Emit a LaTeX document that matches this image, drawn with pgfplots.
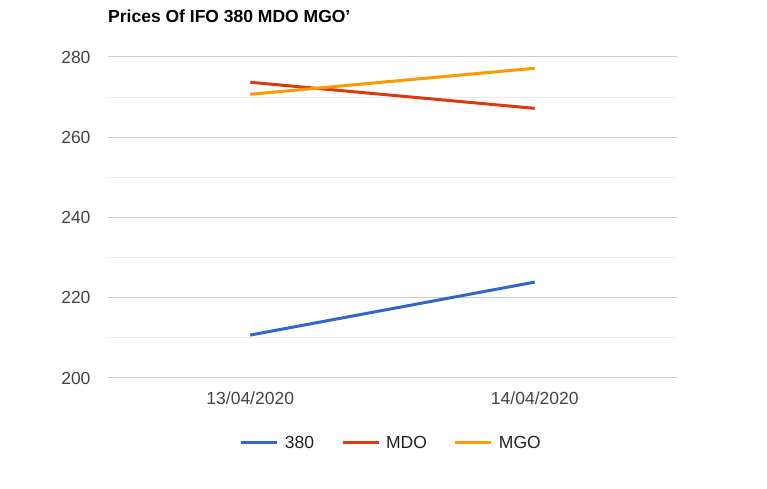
\documentclass[border=0pt]{standalone}
\usepackage{pgfplots}
\pgfplotsset{compat=1.18}
\usepackage{fontspec}
\setmainfont{Liberation Sans}
\definecolor{cA}{HTML}{3366CC}
\definecolor{cB}{HTML}{DC3912}
\definecolor{cC}{HTML}{FF9900}
\definecolor{gmaj}{HTML}{CCCCCC}
\definecolor{gmin}{HTML}{EBEBEB}
\definecolor{tick}{HTML}{444444}
\definecolor{legt}{HTML}{222222}
\begin{document}
\begin{tikzpicture}[x=1bp,y=1bp]
\path[use as bounding box] (0,0) rectangle (767,489);
\node[anchor=base west,font=\fontsize{17.5bp}{20bp}\selectfont\bfseries,inner sep=0pt] at (108,466) {Prices Of IFO 380 MDO MGO’};
\begin{axis}[
  at={(108bp,111bp)}, anchor=south west,
  width=569bp, height=321bp, scale only axis,
  xmin=-0.5, xmax=1.5, ymin=200, ymax=280,
  xtick={0,1}, xticklabels={13/04/2020,14/04/2020},
  ytick={200,220,240,260,280},
  minor ytick={210,230,250,270},
  axis line style={draw=none},
  axis x line*=bottom,
  ymajorgrids, yminorgrids,
  major grid style={gmaj,line width=1bp},
  minor grid style={gmin,line width=1bp},
  major tick length=0pt, minor tick length=0pt,
  tick label style={font=\fontsize{17.5bp}{20bp}\selectfont, text=tick},
  yticklabel style={xshift=-14bp},
  xticklabel style={yshift=-10bp},
  /pgf/number format/assume math mode=true,
  clip=false,
  legend columns=3,
  legend style={draw=none, at={(0.498,-0.2025)}, anchor=center,
    font=\fontsize{17.5bp}{20bp}\selectfont, text=legt,
    /tikz/every even column/.append style={column sep=25bp},
    /tikz/every odd column/.append style={column sep=4bp}},
  legend image code/.code={\draw[#1] (0bp,0bp) -- (36bp,0bp);},
]
\draw[gmaj,line width=1bp] (axis cs:-0.5,200) -- (axis cs:1.5,200);
\addplot[cA, line width=3bp] coordinates {(0,210.7) (1,223.9)};
\addlegendentry{380}
\addplot[cB, line width=3bp] coordinates {(0,273.7) (1,267.2)};
\addlegendentry{MDO}
\addplot[cC, line width=3bp] coordinates {(0,270.7) (1,277.2)};
\addlegendentry{MGO}
\end{axis}
\end{tikzpicture}
\end{document}
